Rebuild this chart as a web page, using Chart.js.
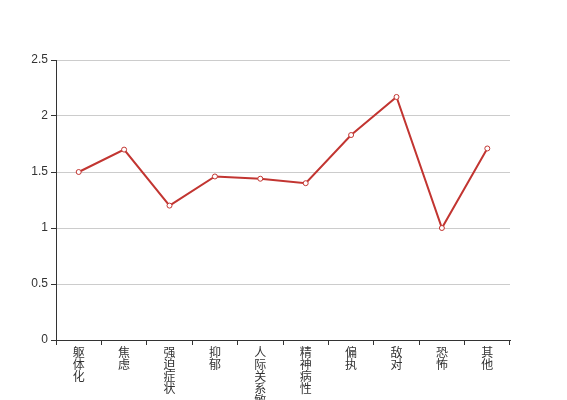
<!DOCTYPE html>
<html>
<head>
<meta charset="utf-8">
<script src="https://cdn.jsdelivr.net/npm/chart.js@4/dist/chart.umd.min.js"></script>
<style>
  html, body { margin: 0; padding: 0; background: #fff; }
  #wrap { width: 567px; height: 400px; }
</style>
</head>
<body>
<div id="wrap"><canvas id="chart"></canvas></div>
<script>
const categories = ['躯体化', '焦虑', '强迫症状', '抑郁', '人际关系敏感', '精神病性', '偏执', '敌对', '恐怖', '其他'];
const scores = [1.5, 1.7, 1.2, 1.46, 1.44, 1.4, 1.83, 2.17, 1.0, 1.71];
const yTicks = [0, 0.5, 1, 1.5, 2, 2.5];

const fontFamily = '"Liberation Sans", "Noto Sans CJK SC", sans-serif';

// vertical labels: one character per line
const verticalLabels = categories.map(name => name.split(''));

const ctx = document.getElementById('chart').getContext('2d');
new Chart(ctx, {
    type: 'line',
    data: {
        labels: verticalLabels,
        datasets: [{
            data: scores,
            borderColor: '#c23531',
            borderWidth: 2,
            backgroundColor: '#ffffff',
            pointBackgroundColor: '#ffffff',
            pointBorderColor: '#c23531',
            pointBorderWidth: 1,
            pointRadius: 2.5,
            tension: 0,
            fill: false
        }]
    },
    options: {
        responsive: true,
        maintainAspectRatio: false,
        animation: false,
        layout: { padding: { top: 60, right: 57, left: 0, bottom: 0 } },
        plugins: {
            legend: { display: false },
            tooltip: { enabled: false }
        },
        scales: {
            x: {
                offset: true,
                grid: {
                    offset: true,
                    drawOnChartArea: false,
                    drawTicks: true,
                    tickLength: 5,
                    tickColor: '#333',
                    color: '#333'
                },
                border: { color: '#333', width: 1 },
                ticks: {
                    autoSkip: false,
                    maxRotation: 0,
                    minRotation: 0,
                    padding: 3,
                    color: '#333',
                    font: { family: fontFamily, size: 12, lineHeight: 1 }
                },
                afterFit: scale => { scale.height = 60; }
            },
            y: {
                min: 0,
                max: 2.5,
                afterBuildTicks: scale => {
                    scale.ticks = yTicks.map(v => ({ value: v }));
                },
                grid: {
                    color: '#cccccc',
                    tickColor: '#333',
                    tickLength: 5,
                    drawTicks: true
                },
                border: { color: '#333', width: 1 },
                ticks: {
                    padding: 3,
                    color: '#333',
                    font: { family: fontFamily, size: 12 },
                    callback: value => String(value)
                },
                afterFit: scale => { scale.width = 56; }
            }
        }
    }
});
</script>
</body>
</html>
